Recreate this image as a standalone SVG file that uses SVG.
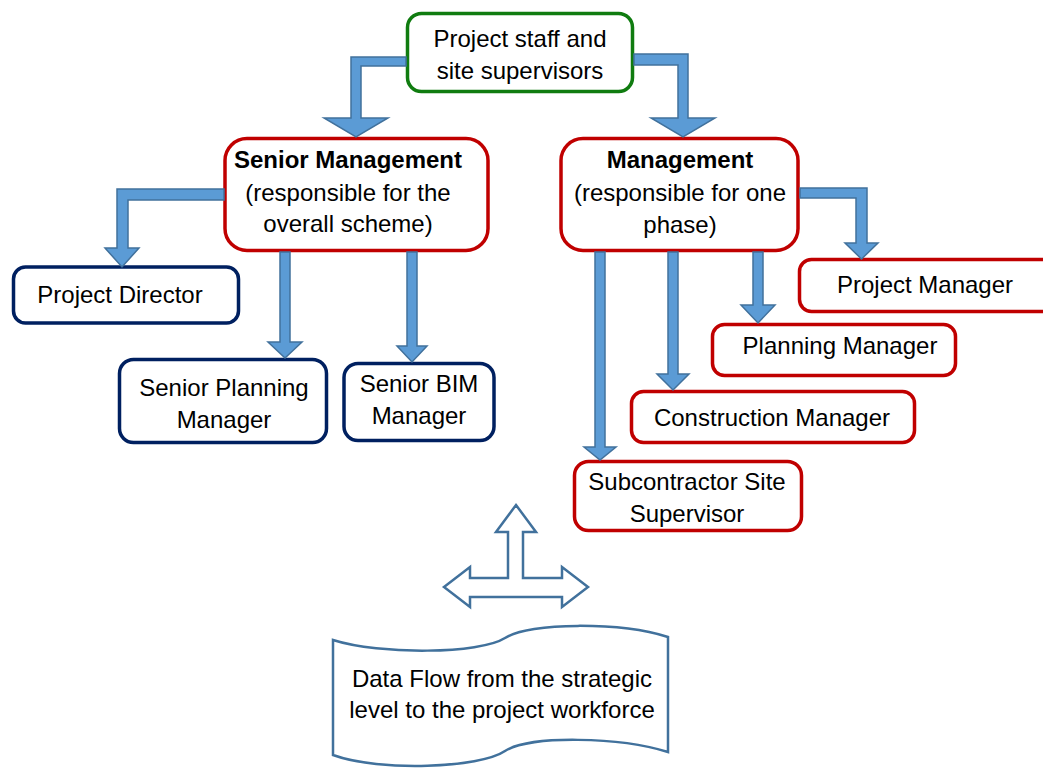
<svg xmlns="http://www.w3.org/2000/svg" width="1043" height="769" viewBox="0 0 1043 769">
<style>
  .box { fill: #ffffff; stroke-width: 3.5; }
  .g { stroke: #107c10; }
  .r { stroke: #c00000; }
  .n { stroke: #002060; }
  .t { font-family: "Liberation Sans", Arial, sans-serif; font-size: 24px; fill: #000000; text-anchor: middle; }
  .b { font-weight: bold; }
  .arr { fill: #5b9bd5; stroke: #41719c; stroke-width: 1.5; stroke-linejoin: miter; }
  .out { fill: #ffffff; stroke: #41719c; stroke-width: 2.5; stroke-linejoin: miter; }
</style>
<rect width="1043" height="769" fill="#ffffff"/>

<g id="node-top">
  <rect class="box g" x="407.5" y="13.5" width="225" height="78" rx="14"/>
  <text class="t" x="520" y="47">Project staff and</text>
  <text class="t" x="520" y="79">site supervisors</text>
</g>
<g id="node-senior-management">
  <rect class="box r" x="225" y="138.5" width="263" height="112" rx="22"/>
  <text class="t b" x="348" y="168">Senior Management</text>
  <text class="t" x="348" y="201">(responsible for the</text>
  <text class="t" x="348" y="232">overall scheme)</text>
</g>
<g id="node-management">
  <rect class="box r" x="561" y="138.5" width="237" height="112" rx="22"/>
  <text class="t b" x="680" y="168">Management</text>
  <text class="t" x="680" y="201">(responsible for one</text>
  <text class="t" x="680" y="233">phase)</text>
</g>
<g id="node-project-director">
  <rect class="box n" x="13.5" y="267" width="225" height="56" rx="12"/>
  <text class="t" x="120" y="303">Project Director</text>
</g>
<g id="node-senior-planning-manager">
  <rect class="box n" x="119.5" y="359.5" width="207" height="83" rx="14"/>
  <text class="t" x="224" y="396">Senior Planning</text>
  <text class="t" x="224" y="428">Manager</text>
</g>
<g id="node-senior-bim-manager">
  <rect class="box n" x="344" y="363.5" width="150" height="77" rx="14"/>
  <text class="t" x="419" y="392">Senior BIM</text>
  <text class="t" x="419" y="424">Manager</text>
</g>
<g id="node-project-manager">
  <rect class="box r" x="799.5" y="259.5" width="262" height="52" rx="12"/>
  <text class="t" x="925" y="293">Project Manager</text>
</g>
<g id="node-planning-manager">
  <rect class="box r" x="712.5" y="324.5" width="243" height="51" rx="12"/>
  <text class="t" x="840" y="354">Planning Manager</text>
</g>
<g id="node-construction-manager">
  <rect class="box r" x="631.5" y="391.5" width="283" height="51" rx="12"/>
  <text class="t" x="772" y="426">Construction Manager</text>
</g>
<g id="node-subcontractor">
  <rect class="box r" x="574.5" y="461.5" width="227" height="69" rx="14"/>
  <text class="t" x="687" y="490">Subcontractor Site</text>
  <text class="t" x="687" y="522">Supervisor</text>
</g>
<g id="node-data-flow">
  <path class="out" d="M333,640 C380,655 480,654 505,638 C530,622 620,622 668,637 L668,752 C620,737 530,735 505,751 C480,768 380,772 333,755 Z"/>
  <text class="t" x="502" y="687">Data Flow from the strategic</text>
  <text class="t" x="502" y="718">level to the project workforce</text>
</g>
<g id="node-three-way-arrow">
  <polygon class="out" points="516,505 536,532 523,532 523,578 562,578 562,567 588,587 562,607 562,597 470,597 470,607 444,587 470,567 470,578 508,578 508,532 496,532"/>
</g>

<g id="connectors">
  <polygon class="arr" points="406,57 351,57 351,118 324,118 356,137 388,118 361,118 361,66 406,66"/>
  <polygon class="arr" points="634,54 688,54 688,118 715,118 683,137 651,118 678,118 678,65 634,65"/>
  <polygon class="arr" points="224,189 117,189 117,248 105,248 122,267 139,248 128,248 128,200 224,200"/>
  <polygon class="arr" points="280,252 290,252 290,342 302,342 285,358 268,342 280,342"/>
  <polygon class="arr" points="407,252 417,252 417,346 427,346 412,362 397,346 407,346"/>
  <polygon class="arr" points="800,188 867,188 867,243 878,243 861.5,259 845,243 856,243 856,198 800,198"/>
  <polygon class="arr" points="753,252 763,252 763,305 775,305 758,323 741,305 753,305"/>
  <polygon class="arr" points="668,252 678,252 678,374 689,374 673,390 657,374 668,374"/>
  <polygon class="arr" points="595,252 605,252 605,447 616,447 600,460 584,447 595,447"/>
</g>
</svg>
